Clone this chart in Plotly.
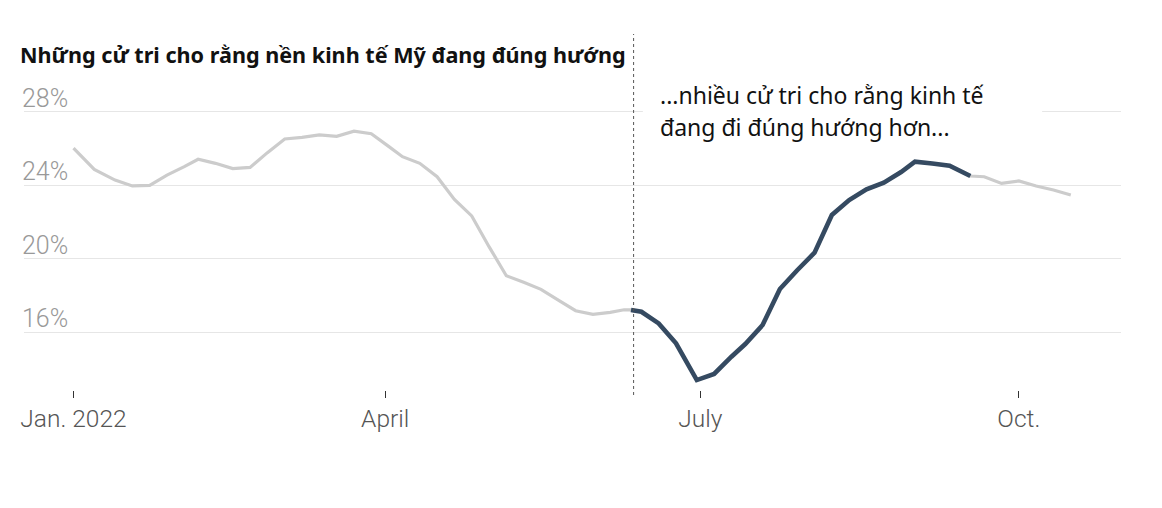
import plotly.graph_objects as go

# ---- data ----
dates = [
    "2022-01-01", "2022-01-07", "2022-01-13", "2022-01-18", "2022-01-23", "2022-01-28",
    "2022-02-02", "2022-02-06", "2022-02-11", "2022-02-16", "2022-02-21", "2022-02-26",
    "2022-03-03", "2022-03-08", "2022-03-13", "2022-03-18", "2022-03-23", "2022-03-28",
    "2022-04-02", "2022-04-06", "2022-04-11", "2022-04-16", "2022-04-21", "2022-04-26",
    "2022-05-01", "2022-05-06", "2022-05-11", "2022-05-16", "2022-05-21", "2022-05-26",
    "2022-05-31", "2022-06-05", "2022-06-09", "2022-06-11",
    "2022-06-14", "2022-06-19", "2022-06-24", "2022-06-30", "2022-07-05", "2022-07-10",
    "2022-07-14", "2022-07-19", "2022-07-24", "2022-07-29", "2022-08-03", "2022-08-08",
    "2022-08-13", "2022-08-18", "2022-08-23", "2022-08-28", "2022-09-01", "2022-09-06",
    "2022-09-11", "2022-09-17",
    "2022-09-21", "2022-09-26", "2022-10-01", "2022-10-06", "2022-10-11", "2022-10-16",
]
share_right_direction = [
    26.0, 24.85, 24.27, 23.95, 23.98, 24.54,
    25.0, 25.4, 25.18, 24.89, 24.96, 25.76,
    26.5, 26.59, 26.73, 26.65, 26.93, 26.79,
    26.1, 25.54, 25.18, 24.45, 23.22, 22.32,
    20.65, 19.07, 18.71, 18.33, 17.75, 17.17,
    16.97, 17.08, 17.22, 17.21,
    17.11, 16.48, 15.40, 13.40, 13.73, 14.67,
    15.36, 16.39, 18.35, 19.37, 20.32, 22.37,
    23.18, 23.77, 24.13, 24.71, 25.27, 25.17,
    25.05, 24.49,
    24.45, 24.09, 24.22, 23.95, 23.73, 23.46,
]
highlight_start = "2022-06-11"
highlight_end = "2022-09-17"
marker_date = "2022-06-11 18:00"

tick_dates = ["2022-01-01", "2022-04-01", "2022-07-01", "2022-10-01"]
tick_labels = ["Jan. 2022", "April", "July", "Oct."]
y_ticks = [16, 20, 24, 28]
y_tick_labels = ["16%", "20%", "24%", "28%"]

title_text = "Những cử tri cho rằng nền kinh tế Mỹ đang đúng hướng"
note_lines = ["...nhiều cử tri cho rằng kinh tế", "đang đi đúng hướng hơn..."]

# ---- figure ----
i0 = dates.index(highlight_start)
i1 = dates.index(highlight_end)

fig = go.Figure()
fig.add_trace(go.Scatter(
    x=dates, y=share_right_direction, mode="lines",
    line=dict(color="#cccccc", width=3.2), hoverinfo="skip", showlegend=False,
))
fig.add_trace(go.Scatter(
    x=dates[i0:i1 + 1], y=share_right_direction[i0:i1 + 1], mode="lines",
    line=dict(color="#354a61", width=4.6), hoverinfo="skip", showlegend=False,
))

OFF = 8  # page body margin
W, H = 1162, 508
# plot area in window pixels: x 22..1121, y 75..390
ml = 22 - OFF
mt = 75 - OFF
mr = W - (1121 - OFF)
mb = H - (390 - OFF)
pw, ph = W - ml - mr, H - mt - mb

def px(xw):
    return (xw - OFF - ml) / pw

def py(yw):
    return (H - mb - (yw - OFF)) / ph

# vertical dotted marker
fig.add_shape(type="line", xref="x", yref="paper",
              x0=marker_date, x1=marker_date,
              y0=py(395), y1=py(34),
              line=dict(color="#555555", width=1, dash="dot"))

# white backing behind the note
fig.add_shape(type="rect", xref="paper", yref="paper",
              x0=px(642), x1=px(1042), y0=py(146), y1=py(78),
              fillcolor="white", line=dict(width=0), layer="above")

note_font = dict(family="Noto Sans", size=23, color="#111111")
fig.add_annotation(text=note_lines[0], xref="paper", yref="paper",
                   x=px(657), y=py(95), xanchor="left", yanchor="middle",
                   showarrow=False, font=note_font)
fig.add_annotation(text=note_lines[1], xref="paper", yref="paper",
                   x=px(657), y=py(127), xanchor="left", yanchor="middle",
                   showarrow=False, font=note_font)

fig.update_layout(
    width=W, height=H,
    margin=dict(l=ml, r=mr, t=mt, b=mb),
    paper_bgcolor="white", plot_bgcolor="white",
    title=dict(text="<b>" + title_text + "</b>", x=(20 - OFF) / W, xanchor="left",
               y=1 - (55 - OFF) / H, yanchor="middle",
               font=dict(family="Noto Sans", size=21.6, color="#111111")),
    xaxis=dict(
        type="date",
        range=["2021-12-17 17:00", "2022-10-30 12:00"],
        tickvals=tick_dates, ticktext=tick_labels,
        showgrid=False, zeroline=False, showline=False,
        ticks="outside", ticklen=7, tickwidth=1, tickcolor="#333333",
        tickfont=dict(family="Roboto", size=24.5, color="#555555", weight=300),
    ),
    yaxis=dict(
        range=[12.86, 29.98],
        tickvals=y_ticks, ticktext=y_tick_labels,
        showgrid=True, gridcolor="#e6e6e6", gridwidth=1,
        zeroline=False, showline=False, ticks="",
        ticklabelposition="inside top",
        ticklabelshift=4, ticklabelstandoff=-5,
        tickfont=dict(family="Roboto", size=25, color="#999999", weight=300),
    ),
)

fig.write_html("out.html")
